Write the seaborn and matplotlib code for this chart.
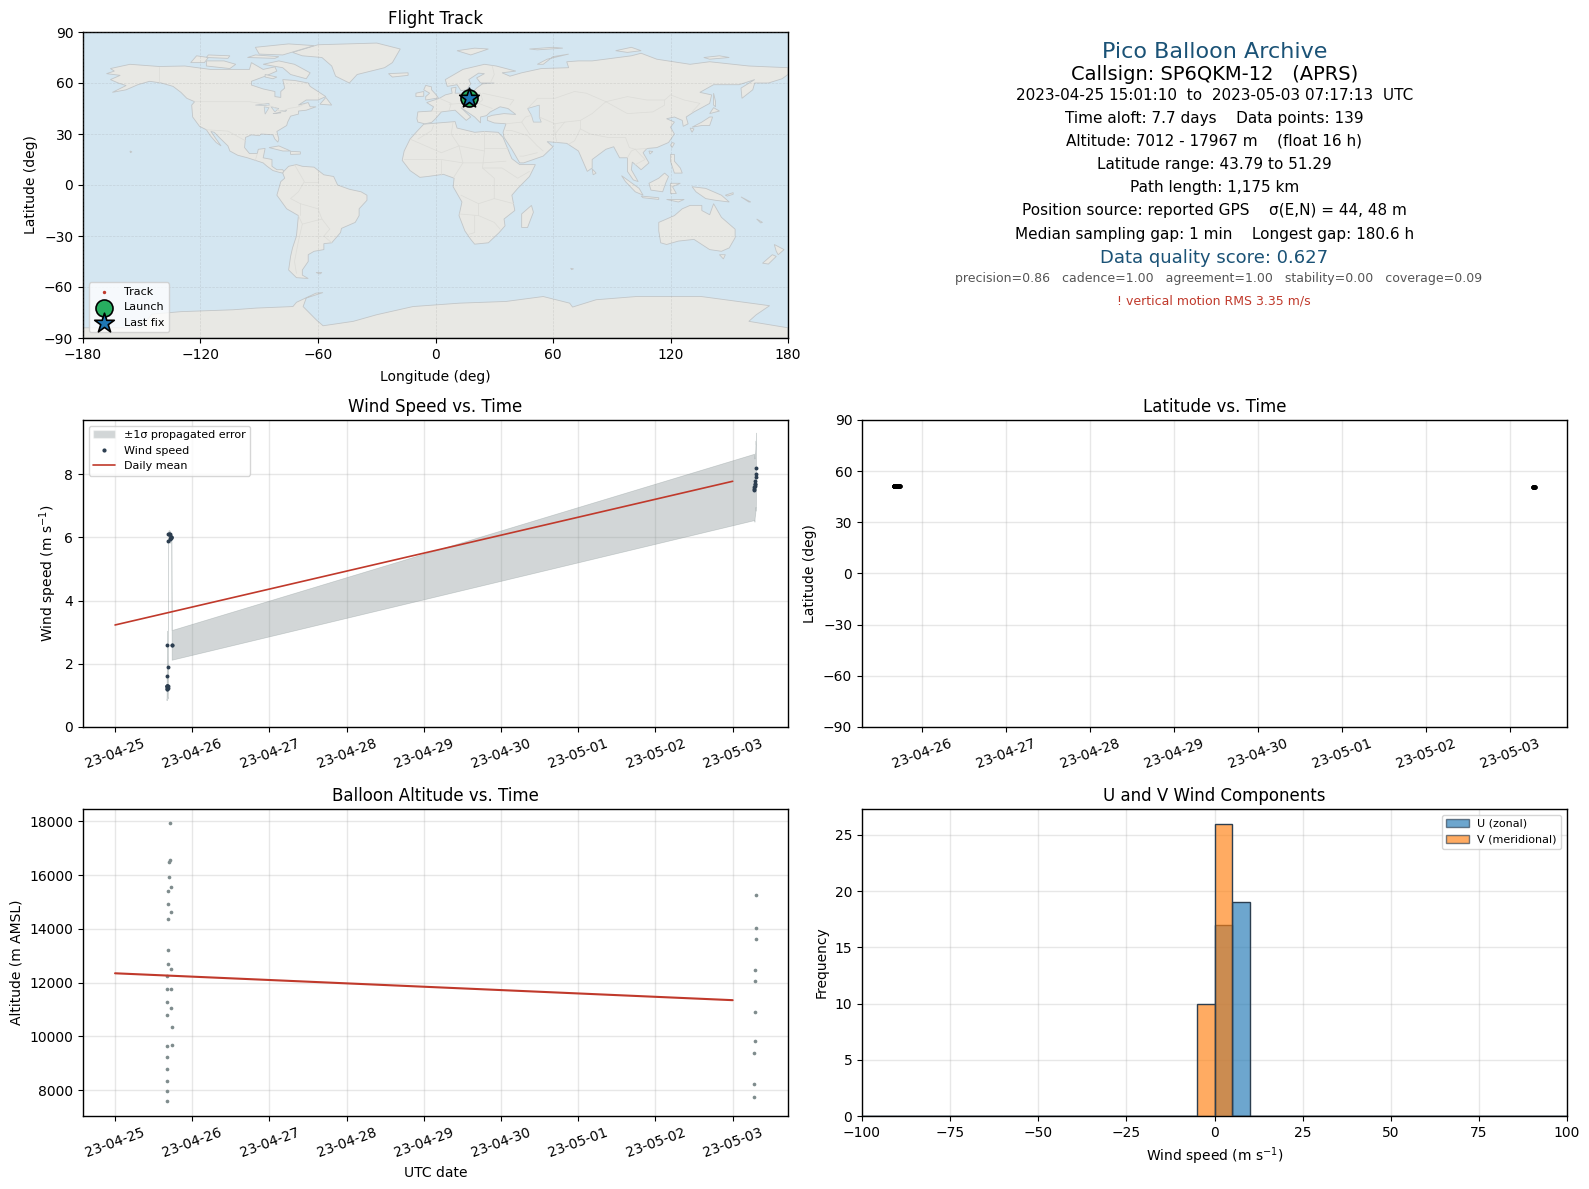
import numpy as np
import pandas as pd
import matplotlib
matplotlib.use("Agg")
import matplotlib.pyplot as plt
import matplotlib.dates as mdates
from matplotlib.patches import Patch
from matplotlib.lines import Line2D
import seaborn as sns

# ---------- data ----------
fix_times = [
    "2023-04-25 16:02", "2023-04-25 16:03", "2023-04-25 16:04", "2023-04-25 16:05", "2023-04-25 16:06", "2023-04-25 16:07",
    "2023-04-25 16:12", "2023-04-25 16:14", "2023-04-25 16:16", "2023-04-25 16:18", "2023-04-25 16:20", "2023-04-25 16:23",
    "2023-04-25 16:30", "2023-04-25 16:31", "2023-04-25 16:36", "2023-04-25 16:42", "2023-04-25 16:50",
    "2023-04-25 17:01", "2023-04-25 17:10", "2023-04-25 17:18",
    "2023-04-25 17:24", "2023-04-25 17:26", "2023-04-25 17:28", "2023-04-25 17:30", "2023-04-25 17:36", "2023-04-25 17:38",
    "2023-05-03 06:38", "2023-05-03 06:42", "2023-05-03 06:46", "2023-05-03 06:50", "2023-05-03 06:54",
    "2023-05-03 06:58", "2023-05-03 07:02", "2023-05-03 07:06", "2023-05-03 07:10", "2023-05-03 07:14",
]
altitude_m = [
    7592, 7963, 8334, 8780, 9225, 9634,
    10785, 11267, 11750, 12233, 12678, 13198,
    14386, 14943, 15426, 15945, 16502,
    17950, 16577, 15574,
    14646, 12492, 11750, 11045, 10339, 9671,
    7750, 8220, 9380, 9820, 10900, 12050, 12480, 13620, 14050, 15250,
]
wind_speed = [
    1.2, 1.25, 1.2, 1.3, 1.6, 2.6,
    1.3, 1.3, 1.3, 1.3, 1.3, 1.25,
    1.9, 5.9, 6.1, 6.12, 6.1,
    6.1, 5.95, 6.0,
    5.98, 6.0, 6.0, 6.0, 2.6, 2.6,
    7.6, 7.55, 7.5, 7.63, 7.68, 7.7, 7.8, 8.02, 7.9, 8.2,
]
wind_sigma = [
    0.35, 0.35, 0.35, 0.35, 0.4, 0.45,
    0.35, 0.35, 0.35, 0.35, 0.35, 0.35,
    0.4, 0.12, 0.12, 0.12, 0.12,
    0.12, 0.12, 0.12,
    0.12, 0.12, 0.12, 0.12, 0.47, 0.47,
    1.05, 1.0, 1.0, 1.0, 1.0, 1.0, 1.0, 1.05, 1.05, 1.12,
]
latitude = [
    51.3, 51.3, 51.3, 51.3, 51.3, 51.3, 51.3, 51.3, 51.3, 51.3, 51.3, 51.3,
    51.3, 51.3, 51.25, 51.25, 51.25, 51.25, 51.2, 51.2, 51.2, 51.2, 51.2, 51.2, 51.2, 51.2,
    50.6, 50.6, 50.6, 50.55, 50.55, 50.55, 50.5, 50.5, 50.5, 50.5,
]
daily_dates = ["2023-04-25", "2023-05-03"]
daily_wind = [3.23, 7.78]
daily_alt = [12350, 11350]

hist_centers = [-2.5, 2.5, 7.5]
u_counts = [0, 17, 19]
v_counts = [10, 26, 0]

track_lon = [16.9, 17.0, 17.1, 17.2, 17.0, 16.9]
track_lat = [51.3, 51.25, 51.2, 51.2, 50.6, 50.5]
launch_lon, launch_lat = [17.0], [51.2]
last_lon, last_lat = [17.0], [51.1]

land_polys = {
    "north_america": [(-168,65.5),(-164,67),(-166,68.5),(-156,71),(-141,69.7),(-128,70),(-115,68),(-108,68),(-95,68),(-94,72),(-88,68),(-82,69.5),(-81,67),(-87,64),(-94,61),(-94,58.8),(-88,56.5),(-82,55),(-82,52),(-79,51.5),(-79,55),(-77,57),(-78,62),(-72,61.5),(-65,60),(-64,58),(-60,55),(-56,52),(-60,50),(-66,50),(-70,47),(-65,48.5),(-64,46),(-61,46),(-66,44),(-70,43.5),(-70,41.7),(-74,40.5),(-75.5,37),(-76,35),(-81,31.5),(-80,27),(-80.5,25.2),(-82,27),(-83,29.5),(-85,29.7),(-89,30),(-90,29),(-94,29.5),(-97,28),(-97.5,22),(-95,18.5),(-91,18.5),(-90.5,21),(-87,21.5),(-88,16),(-83.5,15),(-83.5,11),(-81,9),(-78,9),(-77.5,8),(-78,7),(-80,7.5),(-83,8.5),(-86,11),(-88,13),(-92,14.5),(-96,16),(-101,17.5),(-105,20),(-106,23),(-110,27.5),(-113,31),(-114.7,31.5),(-112,27),(-109.5,23),(-112,25),(-115,29),(-117,32.5),(-120.5,34.5),(-124,40),(-124.5,47),(-123,49),(-127,51),(-130,54.5),(-134,58),(-140,60),(-146,61),(-152,59),(-158,56),(-165,54.5),(-158,58.5),(-162,60),(-166,62),(-161,64.5)],
    "greenland": [(-73,78),(-68,76),(-58,75),(-53,70),(-51,64),(-44,60),(-40,65),(-26,69),(-22,72),(-20,76),(-18,80),(-30,83.5),(-60,82.5)],
    "baffin": [(-80,73),(-72,71),(-64,66),(-66,62.5),(-74,65),(-78,69),(-88,71)],
    "victoria": [(-117,70),(-105,68.5),(-102,71),(-108,73),(-117,73)],
    "banks": [(-125,72),(-118,72),(-116,75),(-122,76)],
    "ellesmere": [(-90,77),(-78,76.5),(-62,82),(-75,83),(-92,81)],
    "devon": [(-96,75),(-82,74.5),(-80,75.5),(-92,76.5)],
    "melville": [(-117,75),(-106,74.5),(-105,76),(-116,76.5)],
    "southampton": [(-87,65),(-81,63.5),(-83,62.5),(-87,63.5)],
    "newfoundland": [(-59,47.5),(-53,47),(-56,51.5)],
    "cuba": [(-85,22),(-80,23),(-74,20),(-78,20)],
    "hispaniola": [(-74,19.8),(-69,19.5),(-69,18.2),(-74,18)],
    "hawaii": [(-156,20),(-155,19.5),(-155.8,19)],
    "south_america": [(-77.5,8),(-75,11),(-71,12),(-68,11),(-62,10.5),(-57,6),(-52,5),(-50,0),(-44,-2.5),(-38,-4),(-35,-6),(-35,-9),(-39,-14),(-39,-18),(-41,-22),(-48,-25.5),(-48.5,-28),(-53,-34),(-57,-34.5),(-57,-38),(-62,-39),(-65,-41),(-65,-45),(-68,-50),(-68,-53),(-65,-55),(-71,-54.5),(-75,-50),(-74,-42),(-73,-37),(-71,-30),(-70,-18),(-76,-14),(-81,-6),(-80,-2),(-79,2),(-77,4),(-78,7)],
    "falklands": [(-61,-51.5),(-58,-51.5),(-59,-52.3)],
    "africa": [(-6,35.8),(10,37.3),(11,33.5),(20,31),(25,31.5),(32,31),(34.5,28),(37,21),(39,15.5),(43,12),(51,12),(48,5),(42,-2),(39,-6),(40.5,-15),(35,-20),(35.5,-24),(32.5,-28),(27,-34),(20,-34.8),(18,-32),(15,-27),(12,-18),(13.5,-10),(9,-1),(9.5,4),(4,6.3),(-4,5),(-8,4.5),(-13,8.5),(-17,14.5),(-16,20),(-13,27),(-9.5,31.5)],
    "madagascar": [(49,-12),(50,-16),(47,-25),(44,-25),(44,-17)],
    "eurasia": [(-9,37),(-9.5,39),(-9,43),(-2,43.5),(-1,46),(-4.5,48.5),(2,51),(5,53),(8.5,54),(8,57),(10.5,57.5),(10,54),(14,54),(19,54.5),(21,57),(24,59.5),(30,60),(23,60),(21,63),(25,65.5),(22,65.8),(17,62),(18,59.5),(16,56),(13,55.5),(11,59),(6,58),(5,62),(14,68),(25,71),(31,70),(41,67),(34,66),(38,64),(44,66),(54,68.5),(68,69),(67,72.5),(73,73),(80,73),(100,76),(105,77.5),(113,74),(130,71),(140,72.5),(160,70),(170,69.5),(180,69),(180,65),(177,62.5),(170,60),(163,60),(162,56),(156.5,51),(156,57),(163,62),(155,59),(142,59),(135,54.5),(141,53),(140,48),(132,43),(128,40),(129,36),(126.5,34.5),(126,38),(122,40),(118,39),(122,37),(120,34),(122,30),(119,25),(113,22),(108,21.5),(106,19),(109,13),(105,9),(100.5,13.5),(100,9),(103.5,2),(101,3),(98,8),(98,16),(94,16),(91,22.5),(87,21),(80,15),(80,10),(77.5,8),(73,20),(67,24.5),(57,25.5),(60,22.5),(55,17),(45,13),(43,13),(39,21),(35,28),(34.5,31),(36,36),(30,36.5),(26.5,38),(26.5,40),(29,41),(35,42),(41,41.5),(37,45),(33,46),(28,43),(26,40.8),(23,40),(23,36.5),(20,40),(13,45.5),(18,40),(15.7,38),(10,44),(3,43),(0,39),(-2,36.8),(-5.5,36)],
    "britain": [(-5,50),(1.5,51.2),(0,53.5),(-2,56),(-2,57.7),(-5,58.6),(-6,56),(-3,54),(-5,52)],
    "ireland": [(-10,52),(-6,52.2),(-6,55),(-10,54)],
    "iceland": [(-24,65.5),(-14,66),(-14,64.5),(-22,63.5)],
    "svalbard": [(11,79),(20,80.5),(27,80),(18,76.5)],
    "novaya": [(52,71),(57,74),(68,77),(60,75.5),(55,71)],
    "franz_josef": [(48,80),(60,81),(65,80.5),(52,79.5)],
    "severnaya": [(92,79),(100,81),(105,79),(98,78)],
    "new_siberia": [(137,75),(145,76),(150,75),(140,74)],
    "sakhalin": [(142,54),(143,49),(143,46),(142,47)],
    "honshu": [(131,34),(136,35),(140,35),(141.5,40),(140,40),(136,37)],
    "hokkaido": [(140,42),(145,43.5),(142,45.5)],
    "kyushu": [(130,33.5),(132,33),(131,31)],
    "taiwan": [(121,25),(122,24.5),(120.8,22),(120,23.5)],
    "hainan": [(109,20),(111,19.7),(109.5,18.2)],
    "philippines": [(120,18),(122,18),(122,14),(125,10),(126,7),(122,7),(120,14)],
    "borneo": [(109,1),(114,4),(117,7),(119,5),(117.5,1),(116,-4),(110,-3)],
    "sumatra": [(95,5.5),(104,-2),(106,-6),(102,-4),(97,2)],
    "java": [(105,-6.5),(114,-7.5),(114,-8.5),(106,-7.5)],
    "sulawesi": [(120,1),(125,1),(121,-1),(123,-5),(120,-5)],
    "timor": [(118,-8.5),(125,-8.5),(127,-8.5),(124,-10)],
    "new_guinea": [(131,-1),(138,-2),(146,-6),(150,-10),(143,-9),(138,-8),(133,-4)],
    "new_britain": [(148,-6),(152,-4.5),(152,-5.5),(149,-6.5)],
    "solomons": [(156,-7),(161,-10),(160,-10)],
    "new_caledonia": [(164,-20),(167,-22),(166,-22.3)],
    "australia": [(114,-22),(122,-18),(126,-14),(130,-12),(136,-12),(136,-15),(140,-17.5),(142,-11),(146,-19),(153,-26),(153,-31),(150,-37),(146,-39),(140,-38),(136,-35),(132,-32),(124,-33),(118,-35),(115,-34),(114,-27)],
    "tasmania": [(145,-41),(148,-41),(147,-43.5)],
    "nz_north": [(173,-35),(178,-38),(175,-41),(174,-39)],
    "nz_south": [(172,-41),(174,-42),(170,-46.5),(167,-46)],
    "sri_lanka": [(80,9.5),(82,7),(80.5,6)],
    "kerguelen": [(69,-49),(70.5,-49.3),(69.5,-49.8)],
    "antarctica": [(-180,-84),(-150,-84),(-145,-76),(-130,-74.5),(-103.4,-73.4),(-91.5,-72.4),(-72.8,-71.5),(-71,-69),(-61,-63.6),(-57.5,-63.3),(-66,-66.5),(-67.6,-71.5),(-60.9,-79.3),(-57.4,-82.8),(-42,-80.2),(-30,-76.3),(-11.5,-71.5),(12.3,-69.5),(36,-68.5),(55,-65.6),(68.5,-69.5),(70,-71.8),(82,-67.5),(102.6,-65.6),(135.7,-65.6),(170.6,-71),(163.8,-76.3),(160,-80.2),(180,-84),(180,-90),(-180,-90)],
}
lake_polys = {
    "caspian": [(47,45),(53,47),(53,40),(54,37),(50,37),(49,41)],
    "superior": [(-92,47),(-85,48),(-85,46.7)],
    "michigan": [(-87.5,46),(-85,45.5),(-87,41.7)],
    "huron": [(-84,46),(-80,45),(-82,43)],
    "erie": [(-83,42),(-79,42.8),(-79,42.4)],
    "ontario": [(-79.5,43.5),(-76,44),(-76.5,43.3)],
}
border_lines = [
    [(-123,49),(-95,49),(-89,48),(-83,46),(-79,43),(-75,45),(-70,46),(-67,47.5)],
    [(-141,69.7),(-141,60)],
    [(-117,32.5),(-106,31.7),(-97,26)],
    [(-92,14.5),(-91,18.5)],
    [(-72,12),(-67,2),(-70,-4),(-74,-8),(-69,-11),(-69,-18)],
    [(-60,8),(-60,2),(-67,2)],
    [(-69,-11),(-60,-14),(-58,-20),(-54,-26),(-57,-30),(-53,-34)],
    [(-70,-18),(-68,-23),(-70,-33),(-72,-45),(-71,-52)],
    [(-68,-23),(-58,-20)],
    [(-9,27),(-2,32),(-1,35)],
    [(-13,27),(3,19),(12,23),(25,20),(25,31.5)],
    [(9,37),(8,30),(12,23),(14,13),(9,4)],
    [(25,20),(24,10),(30,4),(30,-8),(22,-11),(13,-6)],
    [(25,22),(37,22)],
    [(24,10),(34,10),(42,4),(48,8)],
    [(-16,15),(3,15),(14,13),(24,13),(36,14)],
    [(3,15),(3,6)],
    [(30,-8),(40,-11)],
    [(22,-11),(22,-18),(12,-17)],
    [(20,-18),(20,-28),(17,-29)],
    [(22,-18),(30,-22),(33,-26)],
    [(2,51),(8,48),(7,44)],
    [(-2,43.5),(3,43)],
    [(14,54),(15,51),(13,48),(7,47.5)],
    [(19,54.5),(23,54),(24,50),(22,48),(17,48),(13,48)],
    [(22,48),(29,45)],
    [(28,60),(30,65),(29,70)],
    [(24,54),(32,52),(40,50),(38,47)],
    [(47,45),(52,51),(61,51),(71,55),(77,54),(87,49)],
    [(87,49),(98,52),(108,50),(117,50),(120,53),(127,50),(135,48),(131,43)],
    [(87,49),(98,42),(111,43),(117,47),(117,50)],
    [(87,49),(80,42),(74,38),(74,33),(79,30),(88,28),(97,28),(99,22),(102,21),(108,21.5)],
    [(53,40),(61,36),(66,37),(74,38)],
    [(61,36),(61,30),(62,25)],
    [(66,37),(61,30)],
    [(74,33),(71,26),(68,24)],
    [(36,36),(44,37),(48,30)],
    [(44,37),(46,40),(49,41)],
    [(36,32),(39,32),(47,29),(52,23),(55,20)],
    [(52,19),(45,17),(43,17)],
    [(98,16),(100,20),(102,21)],
    [(102,21),(107,15),(102,12)],
]

info_lines = [
    "Pico Balloon Archive",
    "Callsign: SP6QKM-12   (APRS)",
    "2023-04-25 15:01:10  to  2023-05-03 07:17:13  UTC",
    "Time aloft: 7.7 days    Data points: 139",
    "Altitude: 7012 - 17967 m    (float 16 h)",
    "Latitude range: 43.79 to 51.29",
    "Path length: 1,175 km",
    "Position source: reported GPS    σ(E,N) = 44, 48 m",
    "Median sampling gap: 1 min    Longest gap: 180.6 h",
    "Data quality score: 0.627",
    "precision=0.86   cadence=1.00   agreement=1.00   stability=0.00   coverage=0.09",
    "! vertical motion RMS 3.35 m/s",
]
info_y_px = [51.7, 75, 95.4, 118.8, 141.1, 164.4, 187.7, 211, 234.5, 258.4, 278.7, 301]
info_x_shift_px = [0, 0, 0, 0, 0, 0, 0, 0, 0, 0, 4, -1]
info_sizes = [16, 14, 11, 11, 11, 11, 11, 11, 11, 13, 9, 9]
info_colors = ["#1a5276", "black", "black", "black", "black", "black", "black", "black", "black", "#1a5276", "#555555", "#c0392b"]

# ---------- styling ----------
RED = "#c0392b"
NAVY = "#2c3e50"
GREY = "#7f8c8d"
W, H = 1589, 1189
sns.set_style("ticks")
plt.rcParams.update({"axes.edgecolor": "black", "xtick.color": "black", "ytick.color": "black",
                     "axes.labelcolor": "black", "text.color": "black", "axes.linewidth": 1.0,
                     "font.family": "DejaVu Sans", "xtick.direction": "out", "ytick.direction": "out"})
fig = plt.figure(figsize=(W / 100, H / 100), dpi=100)


def add_ax(l, t, r, b):
    return fig.add_axes([l / W, 1 - b / H, (r - l) / W, (b - t) / H])


ax_map = add_ax(83, 32, 788, 338)
ax_info = add_ax(862, 32, 1567, 338)
ax_wind = add_ax(83, 420, 788, 727)
ax_lat = add_ax(862, 420, 1567, 727)
ax_alt = add_ax(83, 809, 788, 1116)
ax_hist = add_ax(862, 809, 1567, 1116)

df = pd.DataFrame({"t": pd.to_datetime(fix_times), "alt": altitude_m, "wind": wind_speed,
                   "sigma": wind_sigma, "lat": latitude})
daily = pd.DataFrame({"d": pd.to_datetime(daily_dates), "wind": daily_wind, "alt": daily_alt})


def grid(ax):
    ax.grid(True, color="#b0b0b0", alpha=0.3, linewidth=1.0)
    ax.set_axisbelow(True)


def date_axis(ax):
    ax.xaxis.set_major_locator(mdates.DayLocator())
    ax.xaxis.set_major_formatter(mdates.DateFormatter("%y-%m-%d"))
    ax.tick_params(axis="x", labelrotation=20)


# ---------- map ----------
ax_map.set_facecolor("#d4e6f1")
for pts in land_polys.values():
    xs, ys = zip(*pts)
    ax_map.fill(xs, ys, facecolor="#e8e8e4", edgecolor="#c2c6c8", linewidth=0.6, zorder=1)
for pts in lake_polys.values():
    xs, ys = zip(*pts)
    ax_map.fill(xs, ys, facecolor="#d4e6f1", edgecolor="#c2c6c8", linewidth=0.5, zorder=1.1)
for pts in border_lines:
    xs, ys = zip(*pts)
    ax_map.plot(xs, ys, color="#dcdcd8", linewidth=0.5, zorder=1.2)
ax_map.grid(True, color="#808080", alpha=0.2, linewidth=0.5, linestyle="--", zorder=1.5)
ax_map.set_axisbelow(False)
sns.scatterplot(x=track_lon, y=track_lat, ax=ax_map, color=RED, s=6, linewidth=0, zorder=3, label="Track")
sns.scatterplot(x=launch_lon, y=launch_lat, ax=ax_map, color="#27ae60", s=150, marker="o", edgecolor="black",
                linewidth=1.2, zorder=4, label="Launch")
sns.scatterplot(x=last_lon, y=last_lat, ax=ax_map, color="#1f77b4", s=220, marker="*", edgecolor="black",
                linewidth=1.2, zorder=5, label="Last fix")
ax_map.set_xlim(-180, 180)
ax_map.set_ylim(-90, 90)
ax_map.set_xticks(np.arange(-180, 181, 60))
ax_map.set_yticks(np.arange(-90, 91, 30))
ax_map.set_xlabel("Longitude (deg)", fontsize=10, labelpad=6)
ax_map.set_ylabel("Latitude (deg)", fontsize=10)
ax_map.set_title("Flight Track", fontsize=12)
ax_map.legend(loc="lower left", fontsize=8, frameon=True)

# ---------- info panel ----------
ax_info.axis("off")
for txt, y, dx, fs, col in zip(info_lines, info_y_px, info_x_shift_px, info_sizes, info_colors):
    ax_info.text(0.5 + dx / 705, (338 - y) / 306, txt, ha="center", va="center", fontsize=fs, color=col,
                 transform=ax_info.transAxes)

# ---------- wind ----------
grid(ax_wind)
ax_wind.fill_between(df["t"], df["wind"] - df["sigma"], df["wind"] + df["sigma"], color=GREY, alpha=0.35,
                     linewidth=0.5, zorder=2)
sns.scatterplot(data=df, x="t", y="wind", ax=ax_wind, color=NAVY, s=8, linewidth=0, zorder=3)
sns.lineplot(data=daily, x="d", y="wind", ax=ax_wind, color=RED, linewidth=1.2, zorder=4)
ax_wind.set_ylim(0, 9.72)
ax_wind.set_xlabel("")
ax_wind.set_ylabel("Wind speed (m s$^{-1}$)", fontsize=10)
ax_wind.set_title("Wind Speed vs. Time", fontsize=12)
date_axis(ax_wind)
ax_wind.legend(handles=[Patch(facecolor=GREY, alpha=0.35, label="±1σ propagated error"),
                        Line2D([], [], marker="o", ls="", ms=2.0, color=NAVY, label="Wind speed"),
                        Line2D([], [], color=RED, lw=1.2, label="Daily mean")],
               loc="upper left", fontsize=8)

# ---------- latitude ----------
grid(ax_lat)
sns.scatterplot(data=df, x="t", y="lat", ax=ax_lat, color="black", s=10, linewidth=0, zorder=3)
ax_lat.set_ylim(-90, 90)
ax_lat.set_yticks(np.arange(-90, 91, 30))
ax_lat.set_xlabel("")
ax_lat.set_ylabel("Latitude (deg)", fontsize=10)
ax_lat.set_title("Latitude vs. Time", fontsize=12)
date_axis(ax_lat)

# ---------- altitude ----------
grid(ax_alt)
sns.scatterplot(data=df, x="t", y="alt", ax=ax_alt, color=GREY, s=7, linewidth=0, zorder=3)
sns.lineplot(data=daily, x="d", y="alt", ax=ax_alt, color=RED, linewidth=1.5, zorder=4)
ax_alt.set_ylim(7042, 18460)
ax_alt.set_yticks(np.arange(8000, 18001, 2000))
ax_alt.set_xlabel("UTC date", fontsize=10)
ax_alt.set_ylabel("Altitude (m AMSL)", fontsize=10)
ax_alt.set_title("Balloon Altitude vs. Time", fontsize=12)
date_axis(ax_alt)

# ---------- histogram ----------
grid(ax_hist)
sns.histplot(x=hist_centers, weights=u_counts, binwidth=5, binrange=(-100, 100), ax=ax_hist, color="#1f77b4",
             alpha=0.65, edgecolor=NAVY, linewidth=1.0, zorder=2)
sns.histplot(x=hist_centers, weights=v_counts, binwidth=5, binrange=(-100, 100), ax=ax_hist, color="#ff7f0e",
             alpha=0.65, edgecolor=NAVY, linewidth=1.0, zorder=3)
ax_hist.set_xlim(-100, 100)
ax_hist.set_ylim(0, 27.3)
ax_hist.set_xlabel("Wind speed (m s$^{-1}$)", fontsize=10)
ax_hist.set_ylabel("Frequency", fontsize=10)
ax_hist.set_title("U and V Wind Components", fontsize=12)
ax_hist.legend(handles=[Patch(facecolor="#1f77b4", alpha=0.65, edgecolor=NAVY, label="U (zonal)"),
                        Patch(facecolor="#ff7f0e", alpha=0.65, edgecolor=NAVY, label="V (meridional)")],
               loc="upper right", fontsize=8)

for ax in fig.axes:
    ax.tick_params(labelsize=10)

fig.savefig("out.png", dpi=100)
